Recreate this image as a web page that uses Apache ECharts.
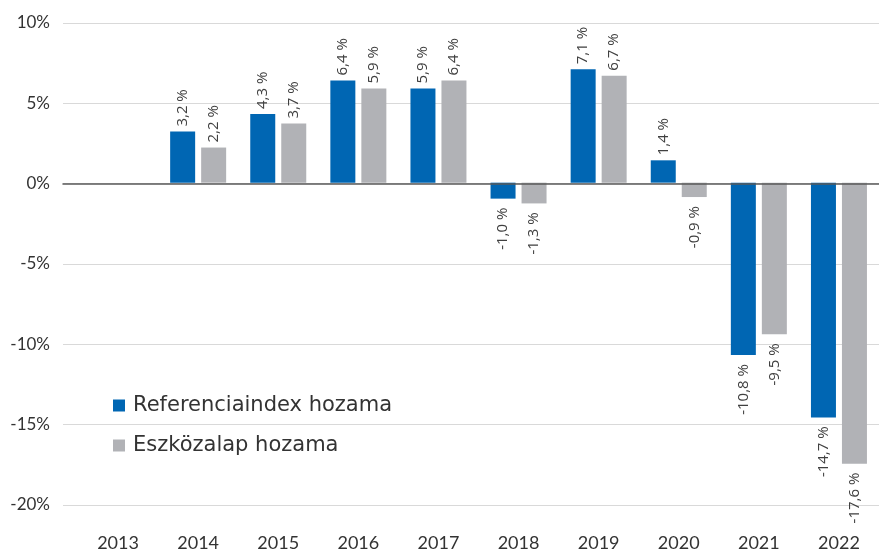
<!DOCTYPE html>
<html>
<head>
<meta charset="utf-8">
<script src="https://cdn.jsdelivr.net/npm/echarts@6/dist/echarts.min.js"></script>
<style>
    html, body { margin: 0; padding: 0; background: #fff; }
    #main { width: 879px; height: 552px; }
</style>
</head>
<body>
<div id="main"></div>
<script>
var years = ['2013', '2014', '2015', '2016', '2017', '2018', '2019', '2020', '2021', '2022'];
var referenciaindex = [null, 3.2, 4.3, 6.4, 5.9, -1.0, 7.1, 1.4, -10.8, -14.7];
var eszkozalap = [null, 2.2, 3.7, 5.9, 6.4, -1.3, 6.7, -0.9, -9.5, -17.6];
var yTicks = { min: -20, max: 10, interval: 5 };

(function () {
    var fmt = function (v) {
        return v.toFixed(1).replace('.', ',') + ' %';
    };
    // pozitiv ertek felette, negativ alatta
    var makeData = function (list) {
        return list.map(function (v) {
            if (v == null) return null;
            var neg = v < 0;
            return {
                value: v,
                label: {
                    position: neg ? 'bottom' : 'top',
                    align: neg ? 'right' : 'left',
                    distance: neg ? 9 : 5
                }
            };
        });
    };
    var valueLabel = {
        show: true,
        rotate: 90,
        verticalAlign: 'middle',
        fontFamily: 'Open Sans',
        fontSize: 15,
        color: '#404040',
        formatter: function (p) { return fmt(p.value); }
    };

    var myChart = echarts.init(document.getElementById('main'));
    var option = {
        animation: false,
        grid: [
            { left: 63, right: 0, top: 23, bottom: 47 },
            { left: 78, right: -8, top: 23, bottom: 47 }
        ],
        legend: {
            orient: 'vertical',
            left: 108,
            top: 390,
            itemWidth: 12,
            itemHeight: 12,
            itemGap: 19,
            icon: 'rect',
            textStyle: { fontFamily: 'DejaVu Sans', fontSize: 21, color: '#333', padding: [0, 0, 0, 3] },
            data: ['Referenciaindex hozama', 'Eszközalap hozama']
        },
        xAxis: [{
            gridIndex: 0,
            type: 'category',
            data: years,
            axisLine: { onZero: true, lineStyle: { color: '#595959', width: 1.5 } },
            axisTick: { show: false },
            axisLabel: { show: false },
            z: 5
        }, {
            gridIndex: 1,
            type: 'category',
            data: years,
            position: 'bottom',
            axisLine: { show: false, onZero: false },
            axisTick: { show: false },
            axisLabel: {
                margin: 32,
                fontFamily: 'Lato',
                fontSize: 18,
                color: '#333'
            }
        }],
        yAxis: [{
            gridIndex: 0,
            type: 'value',
            min: yTicks.min,
            max: yTicks.max,
            interval: yTicks.interval,
            axisLine: { show: false },
            axisTick: { show: false },
            splitLine: { lineStyle: { color: '#d9d9d9', width: 1 } },
            axisLabel: {
                margin: 13,
                fontFamily: 'Lato',
                fontSize: 17,
                color: '#333',
                formatter: '{value}%'
            }
        }, {
            gridIndex: 1,
            type: 'value',
            min: yTicks.min,
            max: yTicks.max,
            interval: yTicks.interval,
            show: false
        }],
        series: [{
            name: 'Referenciaindex hozama',
            type: 'bar',
            xAxisIndex: 1,
            yAxisIndex: 1,
            barWidth: 25,
            barGap: '24%',
            itemStyle: { color: '#0066b3' },
            label: valueLabel,
            data: makeData(referenciaindex)
        }, {
            name: 'Eszközalap hozama',
            type: 'bar',
            xAxisIndex: 1,
            yAxisIndex: 1,
            barWidth: 25,
            barGap: '24%',
            itemStyle: { color: '#b1b2b6' },
            label: valueLabel,
            data: makeData(eszkozalap)
        }]
    };
    myChart.setOption(option);
})();
</script>
</body>
</html>
